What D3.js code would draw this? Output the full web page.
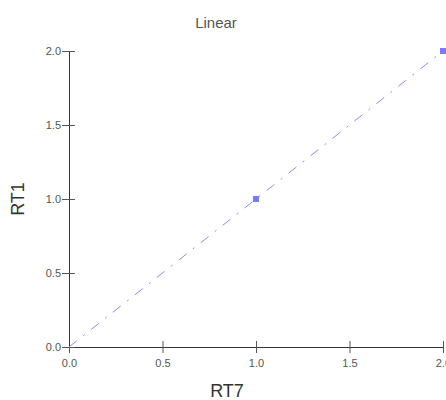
<!DOCTYPE html>
<html>
<head>
<meta charset="utf-8">
<script src="https://cdn.jsdelivr.net/npm/d3@7"></script>
<style>
  body { margin: 0; background: #fff; }
  svg { font-family: "Liberation Sans", Arial, sans-serif; display: block; }
</style>
</head>
<body>
<div id="chart"></div>
<script>
var rt7 = [0, 1, 2];
var rt1 = [0, 1, 2];
var xTicks = [0, 0.5, 1, 1.5, 2];
var yTicks = [0, 0.5, 1, 1.5, 2];

var w = 446, h = 400;
var plotLeft = 69, plotRight = 443, plotTop = 51, plotBottom = 347;

var svg = d3.select("#chart")
  .append("svg")
    .attr("width", w)
    .attr("height", h);

var x = d3.scaleLinear().domain([0, 2]).range([plotLeft, plotRight]);
var y = d3.scaleLinear().domain([0, 2]).range([plotBottom, plotTop]);

// title
svg.append("text")
    .attr("x", 216).attr("y", 28)
    .attr("text-anchor", "middle")
    .style("font-size", "15px")
    .style("fill", "#555")
    .text("Linear");

// x axis, ticks through both sides
var xAxis = svg.append("g")
    .attr("transform", "translate(0," + plotBottom + ")")
    .call(d3.axisBottom(x).tickValues(xTicks).tickFormat(d3.format(".1f"))
      .tickSizeInner(6).tickSizeOuter(0).tickPadding(6));
xAxis.selectAll(".tick line").attr("y1", -6).attr("stroke", "#555");
xAxis.select(".domain").attr("stroke", "#333");
xAxis.selectAll("text").style("font-size", "11px").style("fill", "#555");

// y axis
var yAxis = svg.append("g")
    .attr("transform", "translate(" + plotLeft + ",0)")
    .call(d3.axisLeft(y).tickValues(yTicks).tickFormat(d3.format(".1f"))
      .tickSizeInner(7).tickSizeOuter(0).tickPadding(1));
yAxis.selectAll(".tick line").attr("x1", 6).attr("stroke", "#555");
yAxis.select(".domain").attr("stroke", "#333");
yAxis.selectAll("text").style("font-size", "11px").style("fill", "#555");

// axis titles
svg.append("text")
    .attr("x", 227).attr("y", 397)
    .attr("text-anchor", "middle")
    .style("font-size", "18px")
    .style("fill", "#333")
    .text("RT7");

svg.append("text")
    .attr("transform", "translate(24,199) rotate(-90)")
    .attr("text-anchor", "middle")
    .style("font-size", "18px")
    .style("fill", "#333")
    .text("RT1");

// dash-dot line
var pts = rt7.map(function(d, i) { return [d, rt1[i]]; });
svg.append("path")
    .datum(pts)
    .attr("d", d3.line().x(function(d) { return x(d[0]); }).y(function(d) { return y(d[1]); }))
    .attr("fill", "none")
    .attr("stroke", "#8a8aff")
    .attr("stroke-width", 1)
    .attr("stroke-dasharray", "10,8,2,8");

// square markers (the one at the origin sits under the axes)
svg.selectAll("rect.pt")
    .data(pts.slice(1))
    .enter()
  .append("rect")
    .attr("class", "pt")
    .attr("x", function(d) { return x(d[0]) - 3; })
    .attr("y", function(d) { return y(d[1]) - 3; })
    .attr("width", 6)
    .attr("height", 6)
    .attr("fill", "#7b7bff");
</script>
</body>
</html>
